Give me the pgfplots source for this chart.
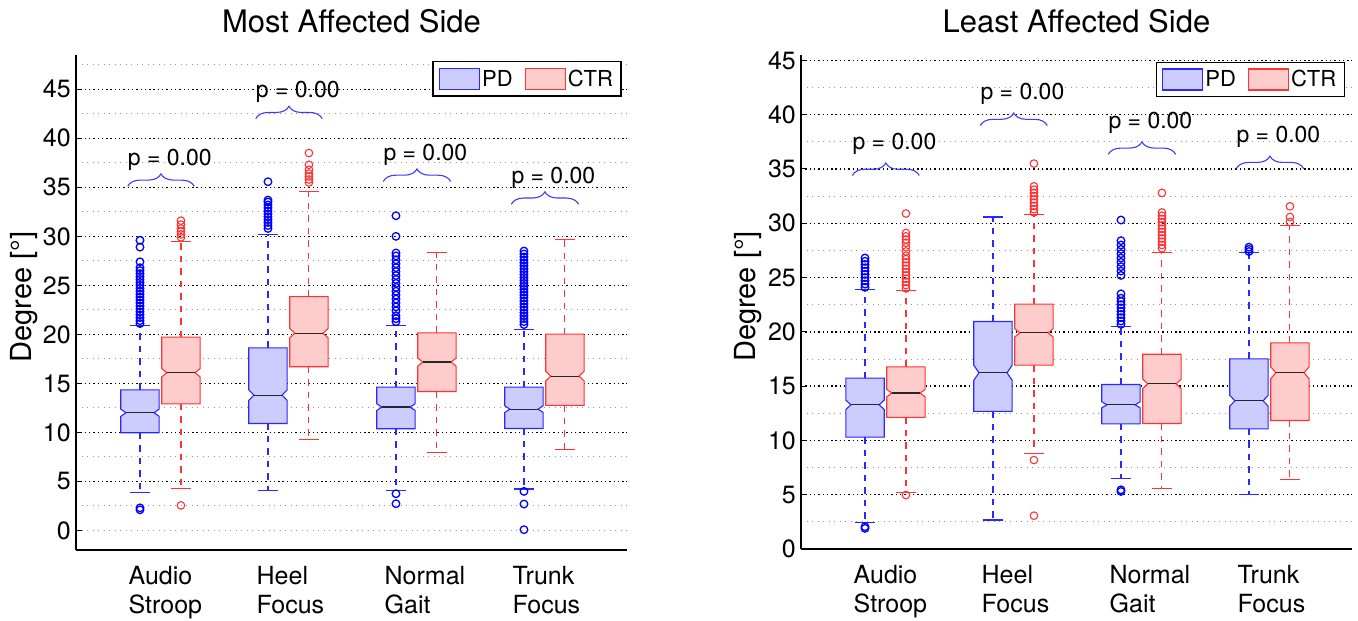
\documentclass[border=0pt]{standalone}
\usepackage{fontspec}
\setmainfont{TeX Gyre Heros}
\usepackage{pgfplots}
\pgfplotsset{compat=1.18}
\usetikzlibrary{decorations.pathreplacing}
\definecolor{pdedge}{RGB}{40,40,255}
\definecolor{pdfill}{RGB}{204,204,255}
\definecolor{pdout}{RGB}{0,0,255}
\definecolor{ctredge}{RGB}{255,51,51}
\definecolor{ctrfill}{RGB}{255,204,204}
\definecolor{gridgray}{RGB}{150,150,150}
\definecolor{bracecol}{RGB}{60,60,255}

\pgfplotsset{
  pdwhisk/.style={draw=pdedge, line width=1.1bp, forget plot, mark=none},
  ctrwhisk/.style={draw=ctredge, line width=1.1bp, forget plot, mark=none},
  pdbox/.style={draw=pdedge, fill=pdfill, line width=1.1bp, forget plot, mark=none},
  ctrbox/.style={draw=ctredge, fill=ctrfill, line width=1.1bp, forget plot, mark=none},
  medline/.style={draw=black!85, line width=1.2bp, forget plot, mark=none},
  pdo/.style={only marks, mark=o, mark size=3.8bp, draw=pdout, mark options={line width=1.3bp, draw=pdout}, forget plot},
  ctro/.style={only marks, mark=o, mark size=3.8bp, draw=ctredge, mark options={line width=1.1bp, draw=ctredge}, forget plot},
  commonaxis/.style={
    scale only axis, width=551bp,
    xmin=0.34, xmax=4.645,
    axis x line=bottom, axis y line=left,
    axis line style={-, line width=1.2bp, black},
    xtick={1,2,3,4},
    xticklabels={{Audio\\Stroop},{Heel\\Focus},{Normal\\Gait},{Trunk\\Focus}},
    xtick style={draw=none},
    minor ytick={2.5,7.5,...,47.5},
    ymajorgrids, yminorgrids,
    major grid style={black, line width=1.3bp, dash pattern=on 1.4bp off 2.9bp},
    minor grid style={gridgray, line width=0.9bp, dash pattern=on 1.1bp off 4.4bp},
    tick align=inside, major tick length=6bp, minor tick length=0bp,
    ytick style={line width=1bp, black},
    /pgf/number format/assume math mode=true,
    tick label style={font=\fontsize{25bp}{29bp}\selectfont},
    yticklabel style={anchor=east, inner sep=0pt, xshift=-5bp},
    xticklabel style={anchor=north west, align=left, inner sep=0pt, xshift=-32bp, yshift=-16.5bp},
    title style={font=\fontsize{31bp}{37bp}\selectfont, at={(0.5,1)}, anchor=base, yshift=16.3bp},
    ylabel={Degree [°]},
    ylabel style={font=\fontsize{29bp}{34bp}\selectfont, anchor=base},
    legend columns=2,
    legend style={draw=black, line width=1.5bp, font=\fontsize{22bp}{26bp}\selectfont,
      inner xsep=6bp, inner ysep=6bp, anchor=north east,
      /tikz/every even column/.append style={column sep=10bp}},
    legend image code/.code={\draw[#1, line width=1.1bp] (0bp,-10.5bp) rectangle (40bp,10.5bp);},
  },
}
% #1 pd/ctr, #2 position, #3 lower whisker, #4 q1, #5 median, #6 q3, #7 upper whisker, #8 notch half-height
\newcommand{\nbox}[8]{%
  \pgfmathsetmacro\xl{#2-0.15}\pgfmathsetmacro\xr{#2+0.15}%
  \pgfmathsetmacro\xli{#2-0.11}\pgfmathsetmacro\xri{#2+0.11}%
  \pgfmathsetmacro\capl{#2-0.075}\pgfmathsetmacro\capr{#2+0.075}%
  \pgfmathsetmacro\nlo{#5-#8}\pgfmathsetmacro\nhi{#5+#8}%
  \edef\tmp{%
    \noexpand\addplot[#1whisk, dash pattern=on 6.5bp off 6bp] coordinates {(#2,#6) (#2,#7)};
    \noexpand\addplot[#1whisk, dash pattern=on 6.5bp off 6bp] coordinates {(#2,#4) (#2,#3)};
    \noexpand\addplot[#1whisk] coordinates {(\capl,#7) (\capr,#7)};
    \noexpand\addplot[#1whisk] coordinates {(\capl,#3) (\capr,#3)};
    \noexpand\addplot[#1box] coordinates {(\xl,#4) (\xl,\nlo) (\xli,#5) (\xl,\nhi) (\xl,#6) (\xr,#6) (\xr,\nhi) (\xri,#5) (\xr,\nlo) (\xr,#4)} --cycle;
    \noexpand\addplot[medline] coordinates {(\xli,#5) (\xri,#5)};
  }\tmp}
\newcommand{\pbrace}[4]{% left x, right x, base y, text raise
  \draw[bracecol, line width=1.1bp, decorate, decoration={brace, amplitude=12.5bp}] (axis cs:#1,#3) -- (axis cs:#2,#3);
  \node[anchor=base west, inner sep=0pt, yshift=#4, font=\fontsize{23bp}{27bp}\selectfont] at (axis cs:#1,#3) {p = 0.00};}

\begin{document}
\begin{tikzpicture}
\path[use as bounding box] (0,0) rectangle (1358bp,621bp);

\begin{axis}[commonaxis,
  at={(76bp,71bp)}, anchor=south west, height=495bp,
  ymin=-2, ymax=48.5,
  ytick={5,10,...,45}, extra y ticks={0},
  extra y tick style={major grid style={gridgray, line width=0.9bp, dash pattern=on 1.1bp off 4.4bp}},
  title={Most Affected Side},
  ylabel style={at={(axis description cs:-0.0808,0.511)}},
  legend style={at={(0.9904,0.9879)}},
]
% Audio Stroop
\nbox{pd}{0.84}{3.87}{9.96}{12.0}{14.34}{20.87}{0.37}
\addplot[pdo] table[x expr=0.84, y index=0, header=false, row sep=\\] {2.1\\ 2.3\\ 21.1\\ 21.4\\ 21.7\\ 22.0\\ 22.3\\ 22.6\\ 22.9\\ 23.2\\ 23.5\\ 23.8\\ 24.1\\ 24.4\\ 24.7\\ 25.0\\ 25.3\\ 25.6\\ 25.9\\ 26.2\\ 26.5\\ 26.8\\ 27.4\\ 28.9\\ 29.6\\};
\nbox{ctr}{1.16}{4.25}{12.91}{16.08}{19.71}{29.5}{0.42}
\addplot[ctro] table[x expr=1.16, y index=0, header=false, row sep=\\] {2.55\\ 29.9\\ 30.2\\ 30.5\\ 30.8\\ 31.2\\ 31.6\\};
% Heel Focus
\nbox{pd}{1.84}{4.08}{10.91}{13.8}{18.62}{30.18}{0.54}
\addplot[pdo] table[x expr=1.84, y index=0, header=false, row sep=\\] {30.8\\ 31.1\\ 31.4\\ 31.7\\ 32.0\\ 32.3\\ 32.6\\ 32.9\\ 33.2\\ 33.5\\ 33.7\\ 35.57\\};
\nbox{ctr}{2.16}{9.31}{16.69}{20.12}{23.85}{34.53}{0.48}
\addplot[ctro] table[x expr=2.16, y index=0, header=false, row sep=\\] {35.5\\ 35.8\\ 36.1\\ 36.4\\ 36.8\\ 37.3\\ 38.5\\};
% Normal Gait
\nbox{pd}{2.84}{4.08}{10.37}{12.58}{14.62}{20.87}{0.34}
\addplot[pdo] table[x expr=2.84, y index=0, header=false, row sep=\\] {2.72\\ 3.74\\ 21.3\\ 21.6\\ 21.9\\ 22.4\\ 22.8\\ 23.2\\ 23.6\\ 24.0\\ 24.4\\ 24.8\\ 25.2\\ 25.6\\ 26.0\\ 26.4\\ 26.8\\ 27.2\\ 27.6\\ 28.0\\ 28.3\\ 30.0\\ 32.1\\};
\nbox{ctr}{3.16}{7.99}{14.17}{17.17}{20.15}{28.38}{0.41}
% Trunk Focus
\nbox{pd}{3.84}{4.22}{10.4}{12.37}{14.62}{20.46}{0.34}
\addplot[pdo] table[x expr=3.84, y index=0, header=false, row sep=\\] {0.07\\ 2.69\\ 3.98\\ 21.0\\ 21.3\\ 21.6\\ 21.9\\ 22.2\\ 22.5\\ 22.8\\ 23.1\\ 23.4\\ 23.7\\ 24.0\\ 24.3\\ 24.6\\ 24.9\\ 25.2\\ 25.5\\ 25.8\\ 26.1\\ 26.4\\ 26.7\\ 27.0\\ 27.3\\ 27.6\\ 27.9\\ 28.2\\ 28.5\\};
\nbox{ctr}{4.16}{8.26}{12.75}{15.74}{20.02}{29.7}{0.49}
\pbrace{0.744}{1.264}{35.1}{21bp}
\pbrace{1.744}{2.264}{42.0}{21bp}
\pbrace{2.741}{3.267}{35.6}{21bp}
\pbrace{3.741}{4.267}{33.27}{21bp}
\addlegendimage{draw=pdedge, fill=pdfill}\addlegendentry{PD}
\addlegendimage{draw=ctredge, fill=ctrfill}\addlegendentry{CTR}
\end{axis}

\begin{axis}[commonaxis,
  at={(801bp,72bp)}, anchor=south west, height=494bp,
  ymin=0, ymax=45.5,
  ytick={0,5,...,45},
  title={Least Affected Side},
  ylabel style={at={(axis description cs:-0.082,0.511)}},
  legend style={at={(0.9873,0.9864)}},
]
% Audio Stroop
\nbox{pd}{0.84}{2.42}{10.31}{13.28}{15.74}{23.9}{0.43}
\addplot[pdo] table[x expr=0.84, y index=0, header=false, row sep=\\] {1.9\\ 2.05\\ 24.1\\ 24.4\\ 24.7\\ 25.0\\ 25.3\\ 25.6\\ 25.9\\ 26.2\\ 26.5\\ 26.8\\};
\nbox{ctr}{1.16}{5.18}{12.12}{14.36}{16.78}{23.77}{0.34}
\addplot[ctro] table[x expr=1.16, y index=0, header=false, row sep=\\] {4.97\\ 24.0\\ 24.3\\ 24.6\\ 24.9\\ 25.2\\ 25.5\\ 25.8\\ 26.1\\ 26.4\\ 26.7\\ 27.0\\ 27.4\\ 27.8\\ 28.2\\ 28.5\\ 28.8\\ 29.1\\ 30.9\\};
% Heel Focus
\nbox{pd}{1.84}{2.67}{12.67}{16.23}{20.95}{30.58}{0.7}
\nbox{ctr}{2.16}{8.77}{16.93}{19.91}{22.55}{30.8}{0.38}
\addplot[ctro] table[x expr=2.16, y index=0, header=false, row sep=\\] {3.07\\ 8.19\\ 31.0\\ 31.3\\ 31.6\\ 31.9\\ 32.2\\ 32.5\\ 32.8\\ 33.1\\ 33.4\\ 35.5\\};
% Normal Gait
\nbox{pd}{2.84}{6.5}{11.53}{13.28}{15.15}{20.46}{0.28}
\addplot[pdo] table[x expr=2.84, y index=0, header=false, row sep=\\] {5.3\\ 5.45\\ 20.7\\ 21.0\\ 21.3\\ 21.6\\ 21.9\\ 22.2\\ 22.5\\ 22.8\\ 23.1\\ 23.5\\ 25.2\\ 25.6\\ 26.0\\ 26.4\\ 26.8\\ 27.2\\ 27.6\\ 28.0\\ 28.4\\ 30.3\\};
\nbox{ctr}{3.16}{5.61}{11.56}{15.21}{17.94}{27.3}{0.43}
\addplot[ctro] table[x expr=3.16, y index=0, header=false, row sep=\\] {27.7\\ 28.0\\ 28.3\\ 28.6\\ 28.9\\ 29.2\\ 29.5\\ 29.8\\ 30.1\\ 30.4\\ 30.7\\ 31.0\\ 32.8\\};
% Trunk Focus
\nbox{pd}{3.84}{5.03}{11.07}{13.65}{17.51}{27.27}{0.5}
\addplot[pdo] table[x expr=3.84, y index=0, header=false, row sep=\\] {27.4\\ 27.6\\ 27.8\\};
\nbox{ctr}{4.16}{6.44}{11.84}{16.23}{18.98}{29.8}{0.55}
\addplot[ctro] table[x expr=4.16, y index=0, header=false, row sep=\\] {30.12\\ 30.58\\ 31.56\\};
\pbrace{0.741}{1.264}{34.4}{25.8bp}
\pbrace{1.741}{2.264}{39.0}{25.8bp}
\pbrace{2.741}{3.267}{36.35}{25.8bp}
\pbrace{3.741}{4.267}{35.03}{25.8bp}
\addlegendimage{draw=pdedge, fill=pdfill}\addlegendentry{PD}
\addlegendimage{draw=ctredge, fill=ctrfill}\addlegendentry{CTR}
\end{axis}
\end{tikzpicture}
\end{document}
